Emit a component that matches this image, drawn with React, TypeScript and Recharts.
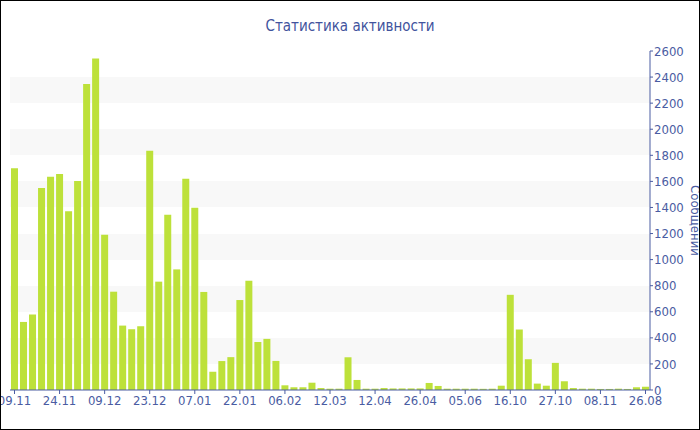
import React from 'react';
import { BarChart, Bar, XAxis, YAxis, CartesianGrid } from 'recharts';

// dates of each bar, only every 5th one is shown on the axis
const dates = [
  '09.11', '12.11', '15.11', '18.11', '21.11', '24.11', '27.11', '30.11', '03.12', '06.12',
  '09.12', '12.12', '14.12', '17.12', '20.12', '23.12', '26.12', '29.12', '01.01', '04.01',
  '07.01', '10.01', '13.01', '16.01', '19.01', '22.01', '25.01', '28.01', '31.01', '03.02',
  '06.02', '13.02', '20.02', '27.02', '05.03', '12.03', '18.03', '24.03', '30.03', '06.04',
  '12.04', '15.04', '18.04', '21.04', '23.04', '26.04', '04.05', '12.05', '20.05', '28.05',
  '05.06', '10.07', '14.08', '17.09', '08.10', '16.10', '18.10', '20.10', '23.10', '25.10',
  '27.10', '29.10', '01.11', '03.11', '06.11', '08.11', '20.12', '15.02', '20.04', '15.06',
  '26.08',
];

const messages = [
  1700, 522, 579, 1550, 1636, 1657, 1371, 1603, 2347, 2543,
  1190, 754, 494, 466, 489, 1835, 831, 1345, 925, 1621,
  1397, 752, 140, 222, 252, 690, 838, 369, 392, 223,
  36, 21, 21, 56, 15, 10, 10, 251, 77, 10,
  10, 15, 12, 12, 12, 12, 54, 31, 10, 10,
  10, 10, 9, 10, 33, 730, 464, 236, 49, 33,
  208, 67, 15, 10, 10, 8, 8, 10, 8, 21,
  25,
];

const yTicks = [0, 200, 400, 600, 800, 1000, 1200, 1400, 1600, 1800, 2000, 2200, 2400, 2600];
const yMinorTicks = [
  0, 100, 200, 300, 400, 500, 600, 700, 800, 900, 1000, 1100, 1200, 1300,
  1400, 1500, 1600, 1700, 1800, 1900, 2000, 2100, 2200, 2300, 2400, 2500, 2600,
];

const data = dates.map((date, i) => ({ date, messages: messages[i] }));

const BLUE = '#4a5ca2';
const FONT = "'DejaVu Sans Condensed', 'DejaVu Sans', sans-serif";

function YAxisTitle({ viewBox }: any) {
  const cx = viewBox.x + viewBox.width - 4;
  const cy = viewBox.y + viewBox.height / 2;
  return (
    <text
      x={cx}
      y={cy}
      transform={`rotate(90 ${cx} ${cy})`}
      textAnchor="middle"
      dominantBaseline="central"
      fill={BLUE}
      fontSize={13}
      fontFamily={FONT}
    >
      Сообщений
    </text>
  );
}

export default function App() {
  return (
    <div
      style={{
        position: 'absolute',
        left: 0,
        top: 0,
        width: 700,
        height: 430,
        boxSizing: 'border-box',
        border: '1px solid #000',
        background: '#fff',
        overflow: 'hidden',
        fontFamily: FONT,
      }}
    >
      <div
        style={{
          position: 'absolute',
          top: 15,
          left: 0,
          width: '100%',
          textAlign: 'center',
          fontSize: 15,
          lineHeight: '20px',
          color: '#41539d',
        }}
      >
        Статистика активности
      </div>
      <BarChart
        width={698}
        height={428}
        data={data}
        margin={{ top: 50, right: 0, bottom: 0, left: 9 }}
      >
        <CartesianGrid
          vertical={false}
          stroke="none"
          horizontalFill={['#ffffff', '#f8f8f8']}
          fillOpacity={1}
        />
        <XAxis
          dataKey="date"
          interval={4}
          height={39}
          tickSize={4}
          tickMargin={2}
          axisLine={{ stroke: BLUE }}
          tickLine={{ stroke: BLUE }}
          tick={{ fill: BLUE, fontSize: 13, fontFamily: FONT }}
        />
        <YAxis
          yAxisId="minor"
          orientation="right"
          mirror
          width={0}
          domain={[0, 2600]}
          ticks={yMinorTicks}
          tickSize={2}
          axisLine={false}
          tickLine={{ stroke: BLUE }}
          tickFormatter={() => ''}
        />
        <YAxis
          orientation="right"
          width={49}
          domain={[0, 2600]}
          ticks={yTicks}
          interval={0}
          tickSize={3}
          tickMargin={1}
          axisLine={{ stroke: BLUE }}
          tickLine={{ stroke: BLUE }}
          tick={{ fill: BLUE, fontSize: 13, fontFamily: FONT, textAnchor: 'start' }}
          label={<YAxisTitle />}
        />
        <Bar dataKey="messages" fill="#bde13a" barSize={7} isAnimationActive={false} />
      </BarChart>
    </div>
  );
}
